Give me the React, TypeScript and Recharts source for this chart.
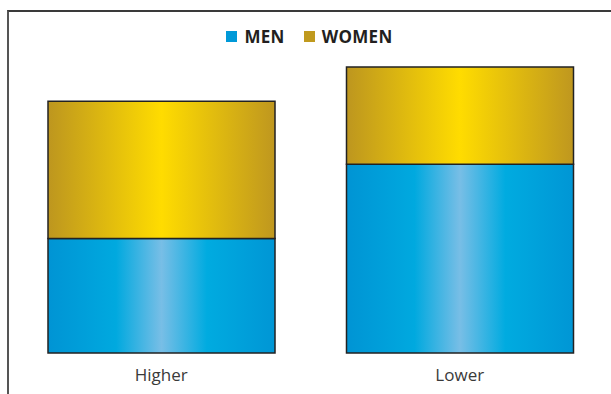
import React from 'react';
import { BarChart, Bar, XAxis, YAxis } from 'recharts';

const categories = ['Higher', 'Lower'];
const menValues = [40, 66];
const womenValues = [48, 34];
const seriesNames = ['MEN', 'WOMEN'];

const data = categories.map((name, i) => ({ name, men: menValues[i], women: womenValues[i] }));

const legendColors = ['#0099d8', '#c09a1e'];

const App: React.FC = () => {
  return (
    <div style={{ position: 'fixed', left: 0, top: 0, width: 611, height: 394, background: '#fff', overflow: 'hidden' }}>
      {/* frame: top and left rules only */}
      <div
        style={{
          position: 'absolute',
          left: 7,
          top: 10,
          right: -4,
          bottom: -4,
          borderTop: '2px solid #3a3a3a',
          borderLeft: '2px solid #555',
        }}
      />
      <div
        style={{
          position: 'absolute',
          top: 25,
          left: 0,
          width: 611,
          display: 'flex',
          justifyContent: 'center',
          fontFamily: '"Open Sans", sans-serif',
          fontWeight: 700,
          fontSize: 17,
          color: '#231f20',
          paddingLeft: 8,
          boxSizing: 'border-box',
        }}
      >
        {seriesNames.map((s, i) => (
          <div key={s} style={{ display: 'flex', alignItems: 'center', marginRight: i === 0 ? 19 : 0 }}>
            <span style={{ width: 11, height: 11, background: legendColors[i], marginRight: 7, display: 'inline-block' }} />
            <span style={{ letterSpacing: 0.3 }}>{s}</span>
          </div>
        ))}
      </div>
      <div style={{ position: 'absolute', left: 0, top: 0 }}>
        <BarChart width={611} height={394} data={data} margin={{ top: 67, right: 2, left: 12, bottom: 0 }}>
          <defs>
            <linearGradient id="menGrad" x1="0" y1="0" x2="1" y2="0">
              <stop offset="0%" stopColor="#0094d4" />
              <stop offset="30%" stopColor="#00a9df" />
              <stop offset="50%" stopColor="#78bee6" />
              <stop offset="70%" stopColor="#00abe0" />
              <stop offset="100%" stopColor="#0096d5" />
            </linearGradient>
            <linearGradient id="womenGrad" x1="0" y1="0" x2="1" y2="0">
              <stop offset="0%" stopColor="#bd961f" />
              <stop offset="50%" stopColor="#ffdc00" />
              <stop offset="100%" stopColor="#bf971f" />
            </linearGradient>
          </defs>
          <XAxis
            dataKey="name"
            height={41}
            axisLine={false}
            tickLine={false}
            tickMargin={10}
            tick={{ fill: '#3a3a3a', fontSize: 17, fontFamily: '"Open Sans", sans-serif', fontWeight: 400 }}
          />
          <YAxis hide domain={[0, 100]} />
          <Bar dataKey="men" stackId="a" barSize={227} fill="url(#menGrad)" stroke="#222" strokeWidth={1.5} isAnimationActive={false} />
          <Bar dataKey="women" stackId="a" barSize={227} fill="url(#womenGrad)" stroke="#222" strokeWidth={1.5} isAnimationActive={false} />
        </BarChart>
      </div>
    </div>
  );
};

export default App;
